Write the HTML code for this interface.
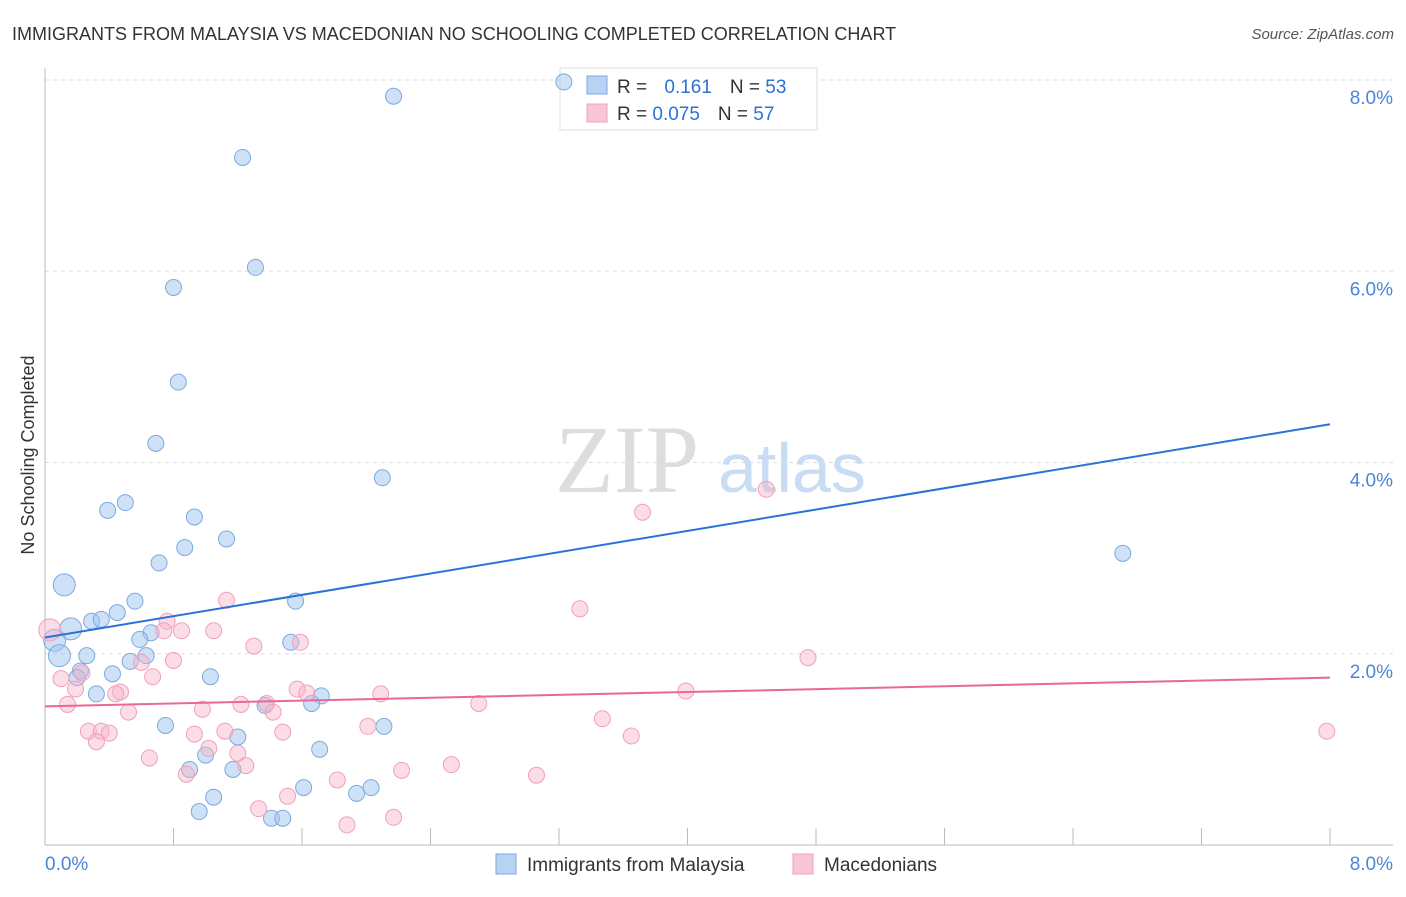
<!DOCTYPE html>
<html><head><meta charset="utf-8"><style>
body{margin:0;background:#fff;font-family:"Liberation Sans",sans-serif;}
</style></head><body>
<svg width="1406" height="892" viewBox="0 0 1406 892" xmlns="http://www.w3.org/2000/svg">
<text x="12" y="40" font-size="18" fill="#333">IMMIGRANTS FROM MALAYSIA VS MACEDONIAN NO SCHOOLING COMPLETED CORRELATION CHART</text>
<text x="1394" y="39" font-size="15" fill="#555" font-style="italic" text-anchor="end">Source: ZipAtlas.com</text>
<g id="grid"></g>
<g id="axes"></g>
<text x="555" y="492" font-size="96" fill="#ddd" font-family="Liberation Serif">ZIP</text>
<text x="718" y="492" font-size="70" fill="#c8dcf4">atlas</text>
<g>
<rect x="560" y="68" width="257" height="62" fill="#fff" stroke="#ddd"/>
<rect x="587" y="76" width="20" height="18" fill="#b8d2f4" stroke="#7aaae0"/>
<rect x="587" y="104" width="20" height="18" fill="#f9c6d6" stroke="#f0a0bc"/>
<text x="617" y="93" font-size="19" fill="#333">R = <tspan fill="#2a72d4" dx="12">0.161</tspan><tspan dx="18">N = </tspan><tspan fill="#2a72d4">53</tspan></text>
<text x="617" y="120" font-size="19" fill="#333">R = <tspan fill="#2a72d4">0.075</tspan><tspan dx="18">N = </tspan><tspan fill="#2a72d4">57</tspan></text>
</g>
<g id="marks"></g>
<text x="34" y="455" font-size="18" fill="#333" transform="rotate(-90 34 455)" text-anchor="middle">No Schooling Completed</text>
<g>
<rect x="496" y="854" width="20" height="20" fill="#b8d2f4" stroke="#7aaae0"/>
<text x="527" y="871" font-size="19" fill="#333">Immigrants from Malaysia</text>
<rect x="793" y="854" width="20" height="20" fill="#f9c6d6" stroke="#f0a0bc"/>
<text x="824" y="871" font-size="19" fill="#333">Macedonians</text>
</g>
</svg>
<script>
const yTicks=[2,4,6,8];
const yTickLabels=["2.0%","4.0%","6.0%","8.0%"];
const blueX=[2.17,3.23,1.23,1.31,0.80,0.83,0.69,2.10,0.50,0.39,0.93,1.13,0.87,0.71,0.12,0.56,1.56,0.45,0.29,0.35,0.16,0.66,0.59,0.06,1.53,0.09,0.26,0.63,0.53,0.22,0.42,0.20,1.03,0.32,1.72,1.66,1.37,0.75,2.11,1.20,1.71,1.00,0.90,1.17,1.61,2.03,1.94,1.05,0.96,1.41,1.48,6.71];
const blueY=[7.83,7.98,7.19,6.04,5.83,4.84,4.20,3.84,3.58,3.50,3.43,3.20,3.11,2.95,2.72,2.55,2.55,2.43,2.34,2.36,2.26,2.22,2.15,2.14,2.12,1.98,1.98,1.98,1.92,1.82,1.79,1.75,1.76,1.58,1.56,1.48,1.46,1.25,1.24,1.13,1.00,0.94,0.79,0.79,0.60,0.60,0.54,0.50,0.35,0.28,0.28,3.05];
const pinkX=[0.03,4.49,3.72,3.33,1.13,0.76,0.85,0.74,1.05,1.59,1.30,4.75,0.80,0.60,0.23,0.10,0.67,0.19,1.57,0.47,0.44,3.99,1.63,2.09,0.14,1.22,2.70,1.38,0.98,1.42,0.52,3.47,2.01,0.27,0.35,0.40,1.12,1.48,0.93,3.65,7.98,0.32,1.02,1.20,0.65,1.25,2.53,2.22,0.88,3.06,1.82,1.33,1.51,2.17,1.88];
const pinkY=[2.25,3.72,3.48,2.47,2.56,2.34,2.24,2.24,2.24,2.12,2.08,1.96,1.93,1.91,1.80,1.74,1.76,1.63,1.63,1.60,1.58,1.61,1.59,1.58,1.47,1.47,1.48,1.48,1.42,1.39,1.39,1.32,1.24,1.19,1.19,1.17,1.19,1.18,1.16,1.14,1.19,1.08,1.01,0.96,0.91,0.83,0.84,0.78,0.74,0.73,0.68,0.38,0.51,0.29,0.21];
const blueTrend=[2.17,4.40];
const pinkTrend=[1.45,1.75];
const NS="http://www.w3.org/2000/svg";
const X0=45,X1=1330,Y0=845,Y8=80;
function sx(v){return X0+v/8*(X1-X0);}
function sy(v){return Y0-v/8*(Y0-Y8);}
function mk(tag,attrs,parent){const e=document.createElementNS(NS,tag);for(const k in attrs)e.setAttribute(k,attrs[k]);document.getElementById(parent).appendChild(e);return e;}
yTicks.forEach((t,i)=>{
 const l=mk('line',{x1:X0,x2:1393,y1:sy(t),y2:sy(t),stroke:'#ddd','stroke-dasharray':'4,4'},'grid');
 
 
 const tx=mk('text',{x:1393,y:sy(t)+24,'font-size':19,fill:'#4a86d8','text-anchor':'end'},'axes');
 tx.textContent=yTickLabels[i];
 
 
});
const ax=mk('line',{x1:X0,x2:X0,y1:68,y2:Y0,stroke:'#bbb'},'axes');


const bx=mk('line',{x1:X0,x2:1393,y1:Y0,y2:Y0,stroke:'#bbb'},'axes');


for(let i=1;i<=10;i++){
 const t=mk('line',{x1:sx(i*0.8),x2:sx(i*0.8),y1:828,y2:Y0,stroke:'#bbb'},'axes');
 
 
}
[["0.0%",X0,'start'],["8.0%",1393,'end']].forEach(a=>{
 const t=mk('text',{x:a[1],y:870,'font-size':19,fill:'#4a86d8','text-anchor':a[2]},'axes');
 t.textContent=a[0];
 
 
});
function pts(xs,ys,fill,stroke,name){
 xs.forEach((x,i)=>{
  const big=(x<0.2&&ys[i]>1.9&&ys[i]<2.8);
  const c=mk('circle',{cx:sx(x),cy:sy(ys[i]),r:big?11:8,fill:fill,stroke:stroke,'stroke-width':1},'marks');
  
  
 });
}
pts(blueX,blueY,'rgba(160,196,240,0.5)','#7aaae0','malaysia-point');
pts(pinkX,pinkY,'rgba(248,180,200,0.45)','#f0a0bc','macedonian-point');
const bl=mk('line',{x1:sx(0),y1:sy(blueTrend[0]),x2:sx(8),y2:sy(blueTrend[1]),stroke:'#2a72d4','stroke-width':2},'marks');


const pl=mk('line',{x1:sx(0),y1:sy(pinkTrend[0]),x2:sx(8),y2:sy(pinkTrend[1]),stroke:'#e8689a','stroke-width':2},'marks');


</script>
</body></html>
